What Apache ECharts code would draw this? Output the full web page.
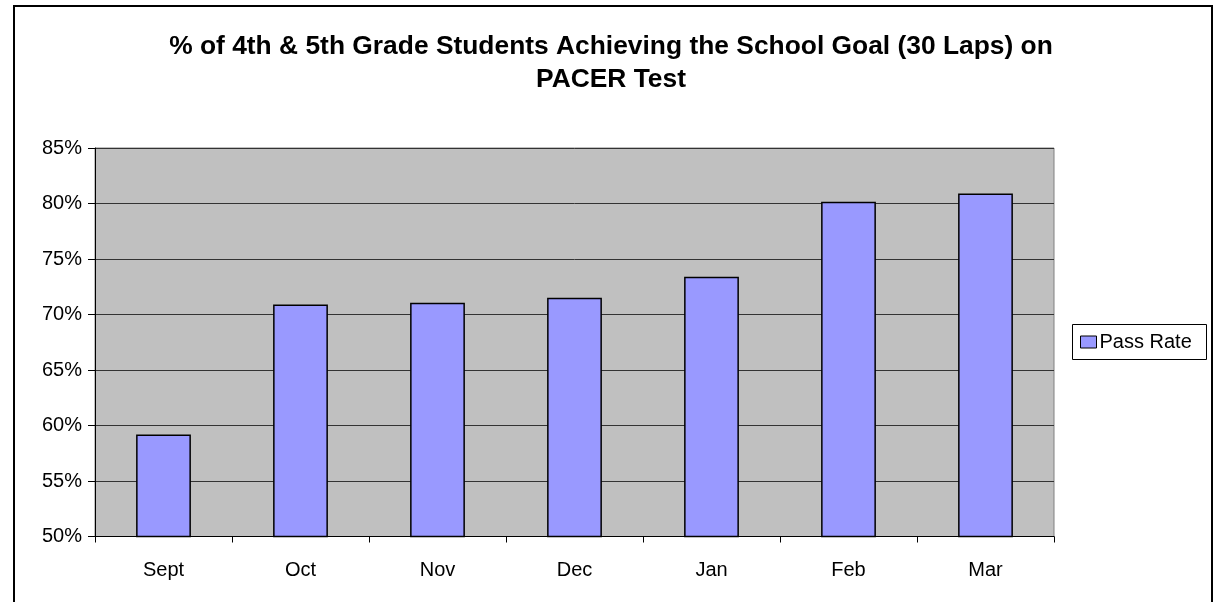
<!DOCTYPE html>
<html>
<head>
<meta charset="utf-8">
<script src="https://cdn.jsdelivr.net/npm/echarts@6/dist/echarts.min.js"></script>
<style>
  html, body { margin: 0; padding: 0; background: #fff; }
  #chart { width: 1215px; height: 602px; }
</style>
</head>
<body>
<div id="chart"></div>
<script>
// months on the x axis
const months = ['Sept', 'Oct', 'Nov', 'Dec', 'Jan', 'Feb', 'Mar']
// pass rate in percent
const passRate = [59.2, 70.9, 71.05, 71.5, 73.4, 80.15, 80.9]
const seriesName = 'Pass Rate'
const titleText = '% of 4th & 5th Grade Students Achieving the School Goal (30 Laps) on\nPACER Test'

let mychart = echarts.init(document.getElementById('chart'))
let font = 'Arial, "Liberation Sans", sans-serif'

let option = {
  animation: false,
  backgroundColor: '#fff',
  textStyle: { fontFamily: font },
  graphic: [
    {
      type: 'rect',
      shape: { x: 14, y: 6, width: 1198, height: 610 },
      style: { fill: 'none', stroke: '#000', lineWidth: 2 },
      z: -1
    },
    {
      // title, a little wider than plain Arial like the original
      type: 'text',
      x: 611,
      y: 31,
      scaleX: 1.055,
      style: {
        text: titleText,
        font: 'bold 25px Arial, "Liberation Sans", sans-serif',
        fill: '#000',
        align: 'center',
        verticalAlign: 'top',
        lineHeight: 33
      }
    },
    {
      type: 'rect',
      shape: { x: 1072.5, y: 324.5, width: 134, height: 35 },
      style: { fill: '#fff', stroke: '#000', lineWidth: 1 },
      z: 1
    }
  ],
  legend: {
    left: 1080,
    top: 332,
    itemWidth: 16,
    itemHeight: 12,
    itemGap: 6,
    padding: 0,
    icon: 'rect',
    z: 5,
    textStyle: { fontFamily: font, fontSize: 20, color: '#000', padding: [0, 0, 0, -2] },
    itemStyle: { borderColor: '#000', borderWidth: 1 },
    data: [seriesName]
  },
  grid: {
    left: 95,
    right: 161,
    top: 148,
    bottom: 65.5,
    show: true,
    backgroundColor: '#C0C0C0',
    borderColor: '#808080',
    borderWidth: 1
  },
  xAxis: {
    type: 'category',
    data: months,
    boundaryGap: true,
    axisLine: { lineStyle: { color: '#000', width: 1 } },
    axisTick: { show: true, length: 6, inside: false, lineStyle: { color: '#000' } },
    axisLabel: { fontFamily: font, fontSize: 20, color: '#000', margin: 24 }
  },
  yAxis: {
    type: 'value',
    min: 50,
    max: 85,
    interval: 5,
    axisLine: { show: true, lineStyle: { color: '#000', width: 1 } },
    axisTick: { show: true, length: 7, lineStyle: { color: '#000' } },
    axisLabel: {
      fontFamily: font,
      fontSize: 20,
      color: '#000',
      margin: 13,
      formatter: '{value}%'
    },
    splitLine: { show: true, lineStyle: { color: '#333', width: 1 } }
  },
  series: [
    {
      name: seriesName,
      type: 'bar',
      data: passRate,
      barWidth: '40%',
      itemStyle: {
        color: '#9999FF',
        borderColor: '#000',
        borderWidth: 1.5
      }
    }
  ]
}
mychart.setOption(option)
</script>
</body>
</html>
